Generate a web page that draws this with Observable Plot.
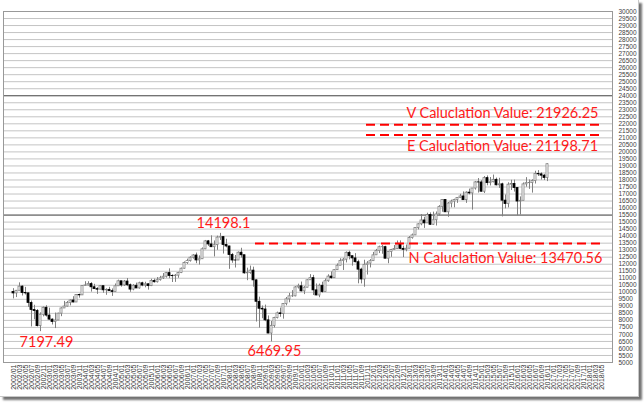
<!DOCTYPE html>
<html><head><meta charset="utf-8">
<script src="https://cdn.jsdelivr.net/npm/d3@7"></script>
<script src="https://cdn.jsdelivr.net/npm/@observablehq/plot@0.6"></script>
<style>
body{margin:0;background:#fff;}
#wrap{position:relative;width:644px;height:403px;overflow:hidden;}
#frame{position:absolute;left:0;top:0;width:638px;height:396px;border-right:1px solid #c8c8c8;border-bottom:1px solid #c8c8c8;box-shadow:3px 3px 2px rgba(0,0,0,0.55);}
#chart{position:absolute;left:0;top:0;}
</style></head><body>
<div id="wrap"><div id="frame"></div><div id="chart"></div></div>
<script>
// category axis: months 2002/01 .. 2018/05
const months = [];
for (let y = 2002; y <= 2018; y++) for (let m = 1; m <= 12; m++) {
  if (y === 2018 && m > 5) break;
  months.push(`${y}/${String(m).padStart(2, "0")}`);
}
const tickMonths = months.filter((d, i) => i % 2 === 0);
const yTicks = d3.range(5000, 30001, 500);

// monthly OHLC, 2002/01 .. 2016/11
const open = [
10021,9920,10106,10404,9946,9925,9243,8737,8664,7592,8397,8896,
8342,8054,7891,7992,8480,8850,8985,9234,9416,9275,9801,9782,
10454,10488,10584,10358,10226,10188,10435,10140,10174,10080,10027,10428,
10783,10490,10766,10504,10193,10467,10275,10641,10482,10569,10440,10806,
10718,10865,10993,11109,11367,11168,11150,11186,11381,11679,12081,12222,
12463,12622,12269,12354,13063,13628,13409,13212,13358,13896,13930,13372,
13265,12650,12266,12263,12820,12638,11350,11378,11544,10851,9325,8829,
8776,8001,7063,7609,8168,8500,8447,9172,9496,9712,9713,10345,
10428,10067,10325,10857,11009,10137,9774,10466,10015,10788,11118,11006,
11578,11892,12226,12320,12811,12570,12414,12143,11614,10913,11955,12046,
12218,12633,12952,13212,13214,12393,12880,13009,13091,13437,13096,13026,
13104,13861,14054,14579,14840,15116,14910,15500,14810,15130,15546,16086,
16577,15699,16322,16458,16581,16717,16827,16563,17098,17043,17391,17828,
17823,17165,18133,17776,17841,18011,17620,17690,16528,16285,17664,17720,
17425,16466,16517,17685,17774,17787,17930,18432,18401,18308,18142];
const high = [
10260,10133,10673,10460,10353,9932,9380,9077,8772,8539,8954,9043,
8870,8109,8522,8510,8898,9352,9349,9460,9687,9812,9872,10485,
10754,10753,10690,10570,10337,10479,10435,10246,10355,10239,10592,10868,
10783,10842,10984,10592,10548,10653,10720,10719,10719,10609,10931,10940,
11048,11137,11335,11413,11670,11248,11271,11426,11728,12167,12361,12529,
12683,12795,12593,13163,13692,13692,14022,13658,14000,14198,13958,13779,
13279,12767,12622,12876,13137,12638,11718,11867,11791,10882,9654,9026,
9088,8315,7924,8220,8588,8878,9200,9630,9918,10120,10406,10580,
10730,10405,10901,11258,11205,10594,10584,10720,10948,11247,11451,11625,
12020,12391,12419,12876,12929,12570,12753,12284,11717,12284,12187,12330,
12842,13056,13290,13338,13280,12898,13058,13331,13653,13662,13290,13367,
13969,14149,14585,14888,15542,15340,15634,15658,15710,15721,16174,16588,
16588,16398,16563,16631,16735,16978,17152,17154,17350,17395,17895,18103,
17951,18244,18289,18175,18351,18137,18121,17771,16933,17799,17978,17990,
17425,16795,17790,18168,18000,18017,18622,18668,18508,18399,19153];
const low = [
9529,9625,10106,9735,9806,8926,7532,8043,7528,7197,8250,8232,
8013,7673,7416,7992,8263,8850,8949,9033,9250,9275,9585,9782,
10430,10456,10014,10225,9852,10180,9928,9784,10060,9708,10027,10428,
10368,10413,10404,10000,10109,10267,10224,10397,10319,10156,10406,10653,
10660,10795,10910,11012,10970,10698,10706,11001,11332,11640,11986,12150,
12363,12038,11939,12354,13037,13266,13188,12518,12990,13692,12724,13167,
11635,12067,11731,12263,12442,11288,10827,11284,10365,7883,7449,8118,
7909,7050,6470,7466,8103,8222,8087,9036,9253,9635,9678,10235,
10025,9835,10325,10857,9774,9757,9614,9937,10015,10711,10929,11006,
11578,11892,11555,12093,12309,11862,12093,10604,10597,10362,11231,11735,
12218,12633,12758,12710,12392,12035,12492,12995,13053,13036,12471,12884,
13104,13784,14054,14444,14740,14551,14910,14760,14778,14720,15434,15703,
15699,15340,16016,16015,16334,16675,16563,16333,16945,15855,17278,17068,
17136,17038,17585,17574,17793,17575,17399,15370,15942,16013,17250,17138,
15451,15503,16517,17485,17331,17063,17713,18247,17992,17959,17884];
const close = [
9920,10106,10404,9946,9925,9243,8737,8664,7592,8397,8896,8342,
8054,7891,7992,8480,8850,8985,9234,9416,9275,9801,9782,10454,
10488,10584,10358,10226,10188,10435,10140,10174,10080,10027,10428,10783,
10490,10766,10504,10193,10467,10275,10641,10482,10569,10440,10806,10718,
10865,10993,11109,11367,11168,11150,11186,11381,11679,12081,12222,12463,
12622,12269,12354,13063,13628,13409,13212,13358,13896,13930,13372,13265,
12650,12266,12263,12820,12638,11350,11378,11544,10851,9325,8829,8776,
8001,7063,7609,8168,8500,8447,9172,9496,9712,9713,10345,10428,
10067,10325,10857,11009,10137,9774,10466,10015,10788,11118,11006,11578,
11892,12226,12320,12811,12570,12414,12143,11614,10913,11955,12046,12218,
12633,12952,13212,13214,12393,12880,13009,13091,13437,13096,13026,13104,
13861,14054,14579,14840,15116,14910,15500,14810,15130,15546,16086,16577,
15699,16322,16458,16581,16717,16827,16563,17098,17043,17391,17828,17823,
17165,18133,17776,17841,18011,17620,17690,16528,16285,17664,17720,17425,
16466,16517,17685,17774,17787,17930,18432,18401,18308,18142,19124];

// calculation levels (dashed red lines)
const levelNames = ["V", "E", "N"];
const levelValues = [21926.25, 21198.71, 13470.56];
const levelStart = ["2011/11", "2011/11", "2008/10"];

// darker reference gridlines
const darkLines = [15500, 24000];

// red annotation texts
const noteText = ["7197.49", "6469.95", "14198.1",
  "V Caluclation Value: 21926.25", "E Caluclation Value: 21198.71", "N Caluclation Value: 13470.56"];
const noteMonth = ["2002/12", "2009/04", "2007/11", "2015/08", "2015/08", "2015/09"];
const noteValue = [6460, 5819, 14932, 22779, 20400, 12419];

const candles = close.map((c, i) => ({m: months[i], o: open[i], h: high[i], l: low[i], c}));
const levels = levelValues.map((v, i) => ({name: levelNames[i], v, x1: levelStart[i], x2: months[months.length - 1]}));
const notes = noteText.map((t, i) => ({t, m: noteMonth[i], v: noteValue[i]}));

const chart = Plot.plot({
  width: 644, height: 403,
  marginLeft: 3, marginRight: 32, marginTop: 11, marginBottom: 41,
  style: {fontFamily: "'Liberation Sans', Arial, sans-serif", background: "transparent", color: "#404040"},
  x: {type: "band", domain: months, paddingInner: 0.25, paddingOuter: 0.1, axis: null},
  y: {domain: [5000, 30000], axis: null},
  marks: [
    Plot.ruleY(yTicks, {stroke: "#c4c4c4", strokeWidth: 1}),
    Plot.ruleY(darkLines, {stroke: "#555", strokeWidth: 1}),
    Plot.frame({stroke: "#999"}),
    Plot.axisX({ticks: tickMonths, tickRotate: -90, tickSize: 0, tickPadding: 2, fontSize: 7, label: null, fill: "#333"}),
    Plot.axisY({anchor: "right", ticks: yTicks, tickFormat: d3.format("d"), tickSize: 0, tickPadding: 6, fontSize: 6.5, label: null, fill: "#404040", textAnchor: "start"}),
    Plot.ruleX(candles, {x: "m", y1: "l", y2: "h", stroke: "#808080", strokeWidth: 1}),
    Plot.barY(candles, {x: "m", y1: d => Math.min(d.o, d.c), y2: d => Math.max(d.o, d.c),
      fill: d => d.c >= d.o ? "#fff" : "#000", stroke: d => d.c >= d.o ? "#808080" : "#000", strokeWidth: 0.8}),
    Plot.ruleY(levels, {y: "v", x1: "x1", x2: "x2", stroke: "#ff0000", strokeWidth: 2, strokeDasharray: "9,5"}),
    Plot.text(notes, {x: "m", y: "v", text: "t", fill: "#ff1a1a", fontSize: 14.5, fontFamily: "Lato, sans-serif"})
  ]
});
document.getElementById("chart").appendChild(chart);
</script>
</body></html>
